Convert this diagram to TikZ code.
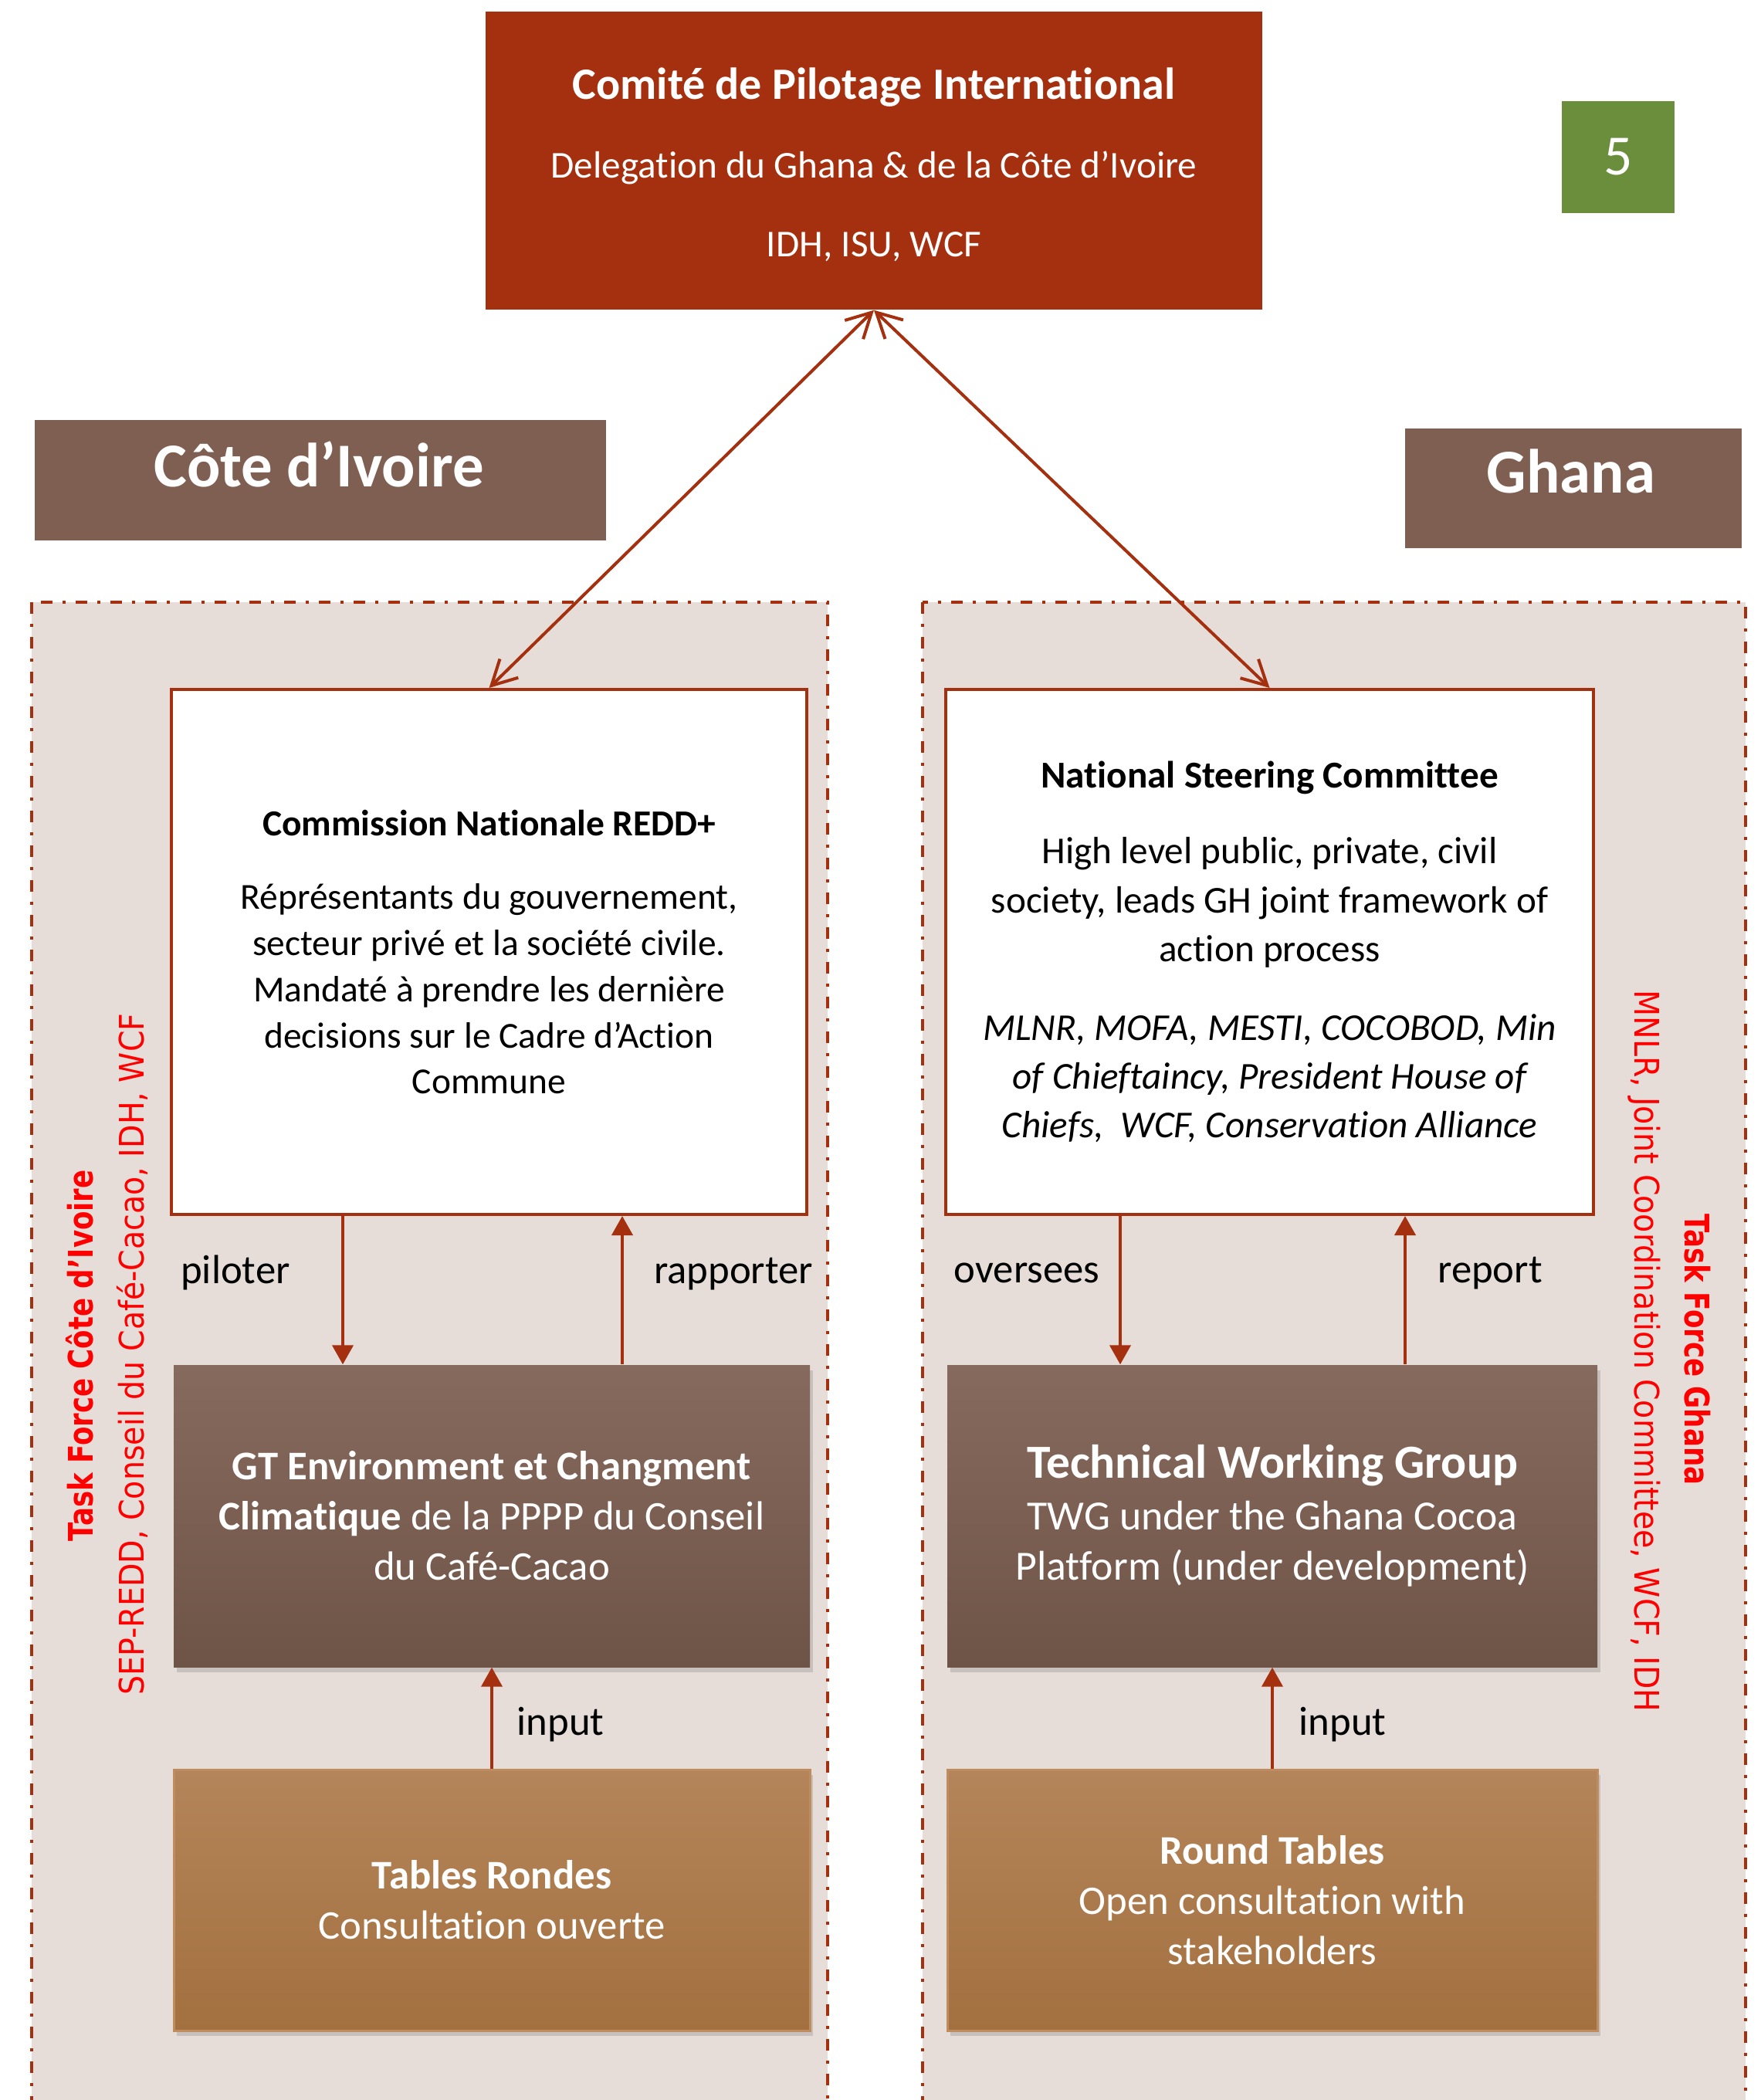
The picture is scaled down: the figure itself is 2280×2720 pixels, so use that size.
\documentclass[tikz,border=0pt]{standalone}
\usepackage{fontspec}
\setmainfont[Ligatures=NoCommon]{Carlito}
\newfontfamily\vfont[FakeStretch=0.9]{DejaVu Sans}
\newfontfamily\vbfont[FakeStretch=0.81]{DejaVu Sans}
\usetikzlibrary{arrows.meta,shadows}
\definecolor{topred}{HTML}{A5300F}
\definecolor{arrowred}{HTML}{A5300F}
\definecolor{labelbrown}{HTML}{7F5F52}
\definecolor{regionfill}{HTML}{E6DDD8}
\definecolor{gttop}{HTML}{876A5E}
\definecolor{gtbot}{HTML}{6E5447}
\definecolor{tabtop}{HTML}{B4855A}
\definecolor{tabbot}{HTML}{A3703F}
\definecolor{tabedge}{HTML}{BE8C5E}
\definecolor{greenbox}{HTML}{6A8E3C}
\definecolor{tfred}{HTML}{FF0000}
\begin{document}
\begin{tikzpicture}[x=0.1mm,y=-0.1mm,
  region/.style={fill=regionfill, draw=arrowred, line width=0.4mm,
    dash pattern=on 1.5mm off 1.3mm on 0.4mm off 1.3mm},
  topbox/.style={fill=topred, text=white, align=center, inner sep=0pt,
    minimum width=100.6mm, minimum height=38.6mm, font=\fontsize{14}{29}\selectfont},
  labelbox/.style={fill=labelbrown, inner sep=0pt},
  labeltext/.style={text=white, inner sep=0pt, font=\fontsize{23}{26}\selectfont\bfseries},
  whitebox/.style={fill=white, draw=arrowred, line width=0.4mm, align=center, inner sep=0pt,
    minimum height=68mm, text=black},
  gtbox/.style={top color=gttop, bottom color=gtbot, draw=none, text=white, align=center,
    inner sep=0pt, minimum height=39.1mm,
    drop shadow={shadow xshift=0.4mm, shadow yshift=-0.7mm, opacity=0.3}},
  tabbox/.style={top color=tabtop, bottom color=tabbot, draw=tabedge, line width=0.3mm,
    text=white, align=center, inner sep=0pt, minimum height=33.8mm,
    drop shadow={shadow xshift=0.4mm, shadow yshift=-0.7mm, opacity=0.3}},
  lbl/.style={text=black, inner sep=0pt, font=\fontsize{15}{18}\selectfont},
  tfb/.style={text=tfred, inner sep=0pt, font={\vbfont\fontsize{12.5}{15}\selectfont\bfseries}},
  tfr/.style={text=tfred, inner sep=0pt, font={\vfont\fontsize{12.5}{15}\selectfont}},
  tri/.style={draw=arrowred, line width=0.4mm, -{Triangle[width=2.7mm,length=2.5mm]}},
  dbl/.style={draw=arrowred, line width=0.4mm,
    {Straight Barb[length=3.2mm,width=3.4mm]}-{Straight Barb[length=3.2mm,width=3.4mm]}}
]
\useasboundingbox (0,0) rectangle (2280,2720);
\fill[white] (0,0) rectangle (2280,2720);

% regions
\draw[region] (41,780) rectangle (1072,2800);
\draw[region] (1195,780) rectangle (2261,2800);

% top box
\node[topbox] (top) at (1132,208) {};
\node[text=white, align=center, inner sep=0pt, font=\fontsize{14}{29}\selectfont] (toptext) at (1132,213)
  {{\fontsize{16.5}{29}\selectfont\bfseries Comité de Pilotage International}\\Delegation du Ghana \& de la Côte d’Ivoire\\IDH, ISU, WCF};

% green number
\node[fill=greenbox, text=white, inner sep=0pt, minimum width=14.6mm, minimum height=14.5mm,
  font=\fontsize{21}{21}\selectfont] (five) at (2096,203.5) {5};

% country labels
\node[labelbox, minimum width=74mm, minimum height=15.6mm] (ci) at (415,622) {};
\node[labeltext, anchor=base] (citext) at (413,630) {Côte d’Ivoire};
\node[labelbox, minimum width=43.6mm, minimum height=15.5mm] (gh) at (2038,632.5) {};
\node[labeltext, anchor=base] (ghtext) at (2035,638) {Ghana};

% white boxes
\node[whitebox, minimum width=82.3mm, font=\fontsize{13.5}{17}\selectfont] (cn) at (633.5,1233)
  {{\bfseries Commission Nationale REDD+}\\[10.3pt]
   Réprésentants du gouvernement,\\
   secteur privé et la société civile.\\
   Mandaté à prendre les dernière\\
   decisions sur le Cadre d’Action\\
   Commune};
\node[whitebox, minimum width=83.9mm, font=\fontsize{14}{18}\selectfont] (nsc) at (1644.5,1233)
  {{\bfseries National Steering Committee}\\[10pt]
   High level public, private, civil\\
   society, leads GH joint framework of\\
   action process\\[11pt]
   {\itshape MLNR, MOFA, MESTI, COCOBOD, Min}\\
   {\itshape of Chieftaincy, President House of}\\
   {\itshape Chiefs,~ WCF, Conservation Alliance}};

% GT / TWG
\node[gtbox, minimum width=82.4mm, font=\fontsize{15}{18.5}\selectfont] (gt) at (637,1963.5)
  {{\bfseries GT Environment et Changment}\\
   {\bfseries Climatique} de la PPPP du Conseil\\
   du Café-Cacao};
\node[gtbox, minimum width=84.2mm, font=\fontsize{15.3}{18.5}\selectfont] (twg) at (1648,1963.5)
  {{\fontsize{17.5}{18.5}\selectfont\bfseries Technical Working Group}\\[0.5pt]
   TWG under the Ghana Cocoa\\
   Platform (under development)};

% tables
\node[tabbox, minimum width=82.4mm, font=\fontsize{15}{18.5}\selectfont] (tr) at (637,2461)
  {{\bfseries Tables Rondes}\\Consultation ouverte};
\node[tabbox, minimum width=84.2mm, font=\fontsize{15}{18.5}\selectfont] (rt) at (1648,2461)
  {{\bfseries Round Tables}\\Open consultation with\\stakeholders};

% arrows top
\draw[dbl] (top.south) -- (cn.north);
\draw[dbl] (top.south) -- (nsc.north);

% vertical arrows
\coordinate (xp) at (444,0);
\coordinate (xr) at (806,0);
\coordinate (xo) at (1451,0);
\coordinate (xq) at (1820,0);
\draw[tri] (cn.south -| xp) -- (gt.north -| xp);
\draw[tri] (gt.north -| xr) -- (cn.south -| xr);
\draw[tri] (nsc.south -| xo) -- (twg.north -| xo);
\draw[tri] (twg.north -| xq) -- (nsc.south -| xq);
\draw[tri] (tr.north) -- (gt.south);
\draw[tri] (rt.north) -- (twg.south);

% labels
\node[lbl, anchor=base] (lpil) at (305,1662) {piloter};
\node[lbl, anchor=base] (lrap) at (950,1662) {rapporter};
\node[lbl, anchor=base] (lov) at (1330,1661) {oversees};
\node[lbl, anchor=base] (lrep) at (1930,1661) {report};
\node[lbl, anchor=base west] (lin1) at (669,2247) {input};
\node[lbl, anchor=base west] (lin2) at (1682,2247) {input};

% vertical side texts
\node[tfb, rotate=90, anchor=base] (tfci) at (120,1756) {Task Force Côte d’Ivoire};
\node[tfr, rotate=90, anchor=base] (sep) at (186,1754) {SEP-REDD, Conseil du Café-Cacao, IDH, WCF};
\node[tfr, rotate=-90, anchor=base] (mnlr) at (2117,1750) {MNLR, Joint Coordination Committee, WCF, IDH};
\node[tfb, rotate=-90, anchor=base] (tfgh) at (2182,1748) {Task Force Ghana};
\end{tikzpicture}
\end{document}
